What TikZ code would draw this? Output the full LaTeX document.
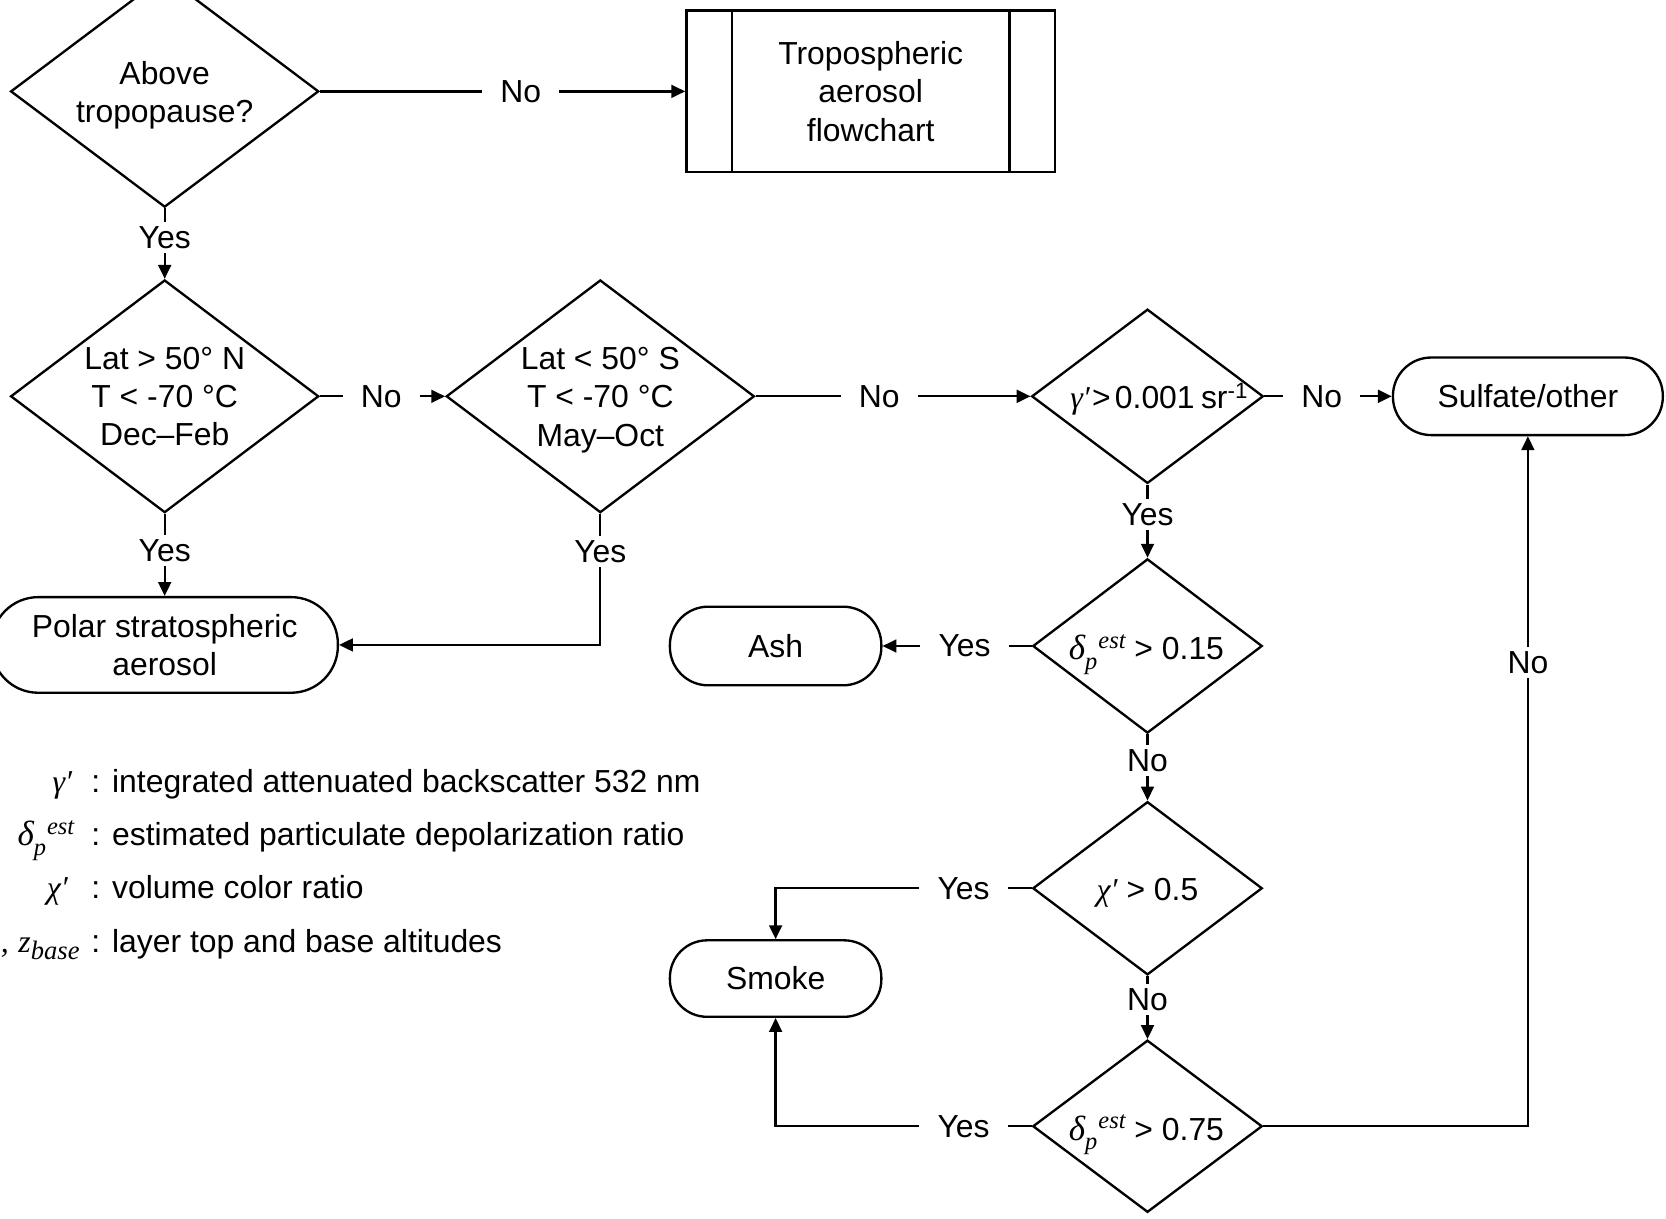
\documentclass[tikz,border=0pt]{standalone}
\usepackage{fontspec}
\setmainfont{Liberation Sans}
\newfontfamily\tms{Liberation Serif}
\usetikzlibrary{shapes.geometric,arrows.meta,calc}
\newcommand\vi[1]{{\tms\itshape #1}}
\newcommand\smi[1]{{\fontsize{23}{23}\selectfont\tms\itshape #1}}
\newcommand\bsmi[1]{{\fontsize{25}{25}\selectfont\tms\itshape #1}}
\newcommand\dest{{\fontsize{33}{36}\selectfont\vi{δ}}\raisebox{-9pt}{\smi{p}}\kern1pt\raisebox{11pt}{\smi{est}}}
\begin{document}
\begin{tikzpicture}[x=1pt,y=-1pt,
  font=\fontsize{30}{36}\selectfont,
  line width=2.2pt,
  dia/.style={draw, diamond, inner sep=0pt},
  term/.style={draw, rectangle, align=center, inner sep=0pt},
  txt/.style={align=center, inner sep=0pt},
  lbl/.style={fill=white, inner xsep=17pt, inner ysep=4pt},
  arr/.style={-{Triangle[length=13pt,width=12pt]}},
  sym/.style={anchor=base east, inner sep=0pt},
  leg/.style={anchor=base west, inner sep=0pt}]
\useasboundingbox (0,0) rectangle (1568,1147);
\clip (0,0) rectangle (1568,1147);
\fill[white] (0,0) rectangle (1568,1147);

% decisions
\node[dia, minimum width=290pt, minimum height=218pt] (d1) at (155,86) {};
\node[txt] (d1t) at (155,90) {Above\\tropopause?};
\node[dia, minimum width=290pt, minimum height=219pt] (d2) at (155,373) {};
\node[txt] (d2t) at (d2) {Lat > 50° N\\T < -70 °C\\Dec–Feb};
\node[dia, minimum width=290pt, minimum height=219pt] (d3) at (565,373) {};
\node[txt] (d3t) at (565,376.5) {Lat < 50° S\\T < -70 °C\\May–Oct};
\node[dia, minimum width=218pt, minimum height=164pt] (d4) at (1080,373) {};
\node[txt] (d4t) at (1091,376) {\vi{γ′}\kern2pt>\kern4pt0.001\kern6pt sr\textsuperscript{-1}};
\node[dia, minimum width=216pt, minimum height=164pt] (d5) at (1080,608) {};
\node[txt] (d5t) at (1079,616) {\dest\ > 0.15};
\node[dia, minimum width=216pt, minimum height=163pt] (d6) at (1080,836) {};
\node[txt] (d6t) at (1080,840) {\vi{χ′} > 0.5};
\node[dia, minimum width=216pt, minimum height=162pt] (d7) at (1080,1060) {};
\node[txt] (d7t) at (1079,1068) {\dest\ > 0.75};

% boxes
\node[term, minimum width=347pt, minimum height=152pt] (trop) at (819.5,86) {Tropospheric\\aerosol\\flowchart};
\draw ($(trop.north west)+(44,0)$) -- ($(trop.south west)+(44,0)$);
\draw ($(trop.north east)+(-44,0)$) -- ($(trop.south east)+(-44,0)$);
\node[term, rounded corners=36pt, minimum width=254pt, minimum height=73pt] (sulf) at (1438,373) {Sulfate/other};
\node[term, rounded corners=44pt, minimum width=326pt, minimum height=90pt] (polar) at (155,607) {Polar stratospheric\\aerosol};
\node[term, rounded corners=36pt, minimum width=199pt, minimum height=74pt] (ash) at (730,608) {Ash};
\node[term, rounded corners=35pt, minimum width=199pt, minimum height=72pt] (smoke) at (730,921) {Smoke};

% connectors
\draw[arr] (d1.east) -- node[lbl,pos=0.55] (n1) {No} (trop.west);
\draw[arr] (d1.south) -- node[lbl,pos=0.41] (n2) {Yes} (d2.north);
\draw[arr] (d2.east) -- node[lbl,pos=0.49] (n3) {No} (d3.west);
\draw[arr] (d3.east) -- node[lbl,pos=0.45] (n4) {No} (d4.west);
\draw[arr] (d4.east) -- node[lbl,pos=0.45] (n5) {No} (sulf.west);
\draw[arr] (d2.south) -- node[lbl,pos=0.45] (n6) {Yes} (polar.north);
\draw[arr] (d3.south) |- node[lbl,pos=0.144] (n7) {Yes} (polar.east);
\draw[arr] (d4.south) -- node[lbl,pos=0.41] (n8) {Yes} (d5.north);
\draw[arr] (d5.west) -- node[lbl,pos=0.45] (n9) {Yes} (ash.east);
\draw[arr] (d5.south) -- node[lbl,pos=0.4] (n10) {No} (d6.north);
\draw[arr] (d6.west) -| node[lbl,pos=0.133] (n11) {Yes} (smoke.north);
\draw[arr] (d6.south) -- node[lbl,pos=0.37] (n12) {No} (d7.north);
\draw[arr] (d7.west) -| node[lbl,pos=0.133] (n13) {Yes} (smoke.south);
\draw[arr] (d7.east) -| node[lbl,pos=0.836] (n14) {No} (sulf.south);

% legend
\node[sym] (s1) at (69,746) {\vi{γ′}};
\node[leg] (l1) at (85,746) {: integrated attenuated backscatter 532 nm};
\node[sym] (s2) at (71,796) {\dest};
\node[leg] (l2) at (85,796) {: estimated particulate depolarization ratio};
\node[sym] (s3) at (65,846) {\vi{χ′}};
\node[leg] (l3) at (85,846) {: volume color ratio};
\node[sym] (s4) at (76,896) {\vi{z}\raisebox{-7pt}{\bsmi{top}}\vi{,}\kern9pt\vi{z}\raisebox{-7pt}{\bsmi{base}}};
\node[leg] (l4) at (85,896) {: layer top and base altitudes};
\end{tikzpicture}
\end{document}
